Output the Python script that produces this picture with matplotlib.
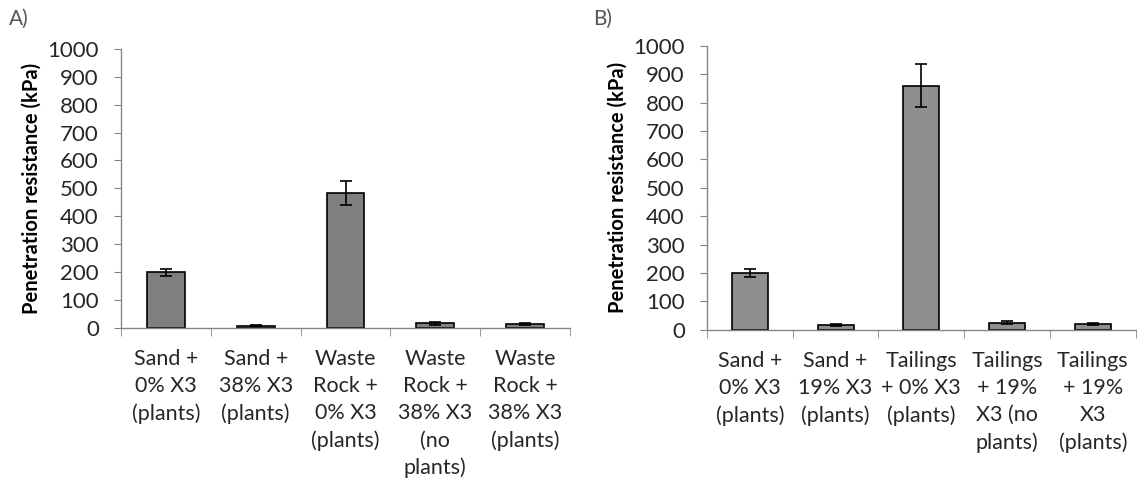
import matplotlib.pyplot as plt
import numpy as np

plt.rcParams['font.family'] = ['Lato', 'DejaVu Sans']

# panel A data
cats_a = ["Sand +\n0% X3\n(plants)", "Sand +\n38% X3\n(plants)", "Waste\nRock +\n0% X3\n(plants)",
          "Waste\nRock +\n38% X3\n(no\nplants)", "Waste\nRock +\n38% X3\n(plants)"]
vals_a = [199, 8, 485, 17, 15]
err_a = [13, 2, 43, 5, 3]

# panel B data
cats_b = ["Sand +\n0% X3\n(plants)", "Sand +\n19% X3\n(plants)", "Tailings\n+ 0% X3\n(plants)",
          "Tailings\n+ 19%\nX3 (no\nplants)", "Tailings\n+ 19%\nX3\n(plants)"]
vals_b = [200, 18, 860, 25, 20]
err_b = [13, 3, 75, 5, 3]

spine_col = "#868686"
txt_col = "#262626"

fig = plt.figure(figsize=(11.37, 4.88), dpi=100)

def panel(rect, cats, vals, errs, color, tag, tagx):
    ax = fig.add_axes(rect)
    x = np.arange(len(cats))
    ax.bar(x, vals, width=0.42, color=color, edgecolor="black", linewidth=1.2, zorder=2)
    ax.errorbar(x, vals, yerr=errs, fmt="none", ecolor="black", elinewidth=1.2,
                capsize=4, capthick=1.2, zorder=3)
    ax.set_xlim(-0.5, len(cats) - 0.5)
    ax.set_ylim(0, 1000)
    ax.set_yticks(np.arange(0, 1001, 100))
    ax.tick_params(axis="y", direction="out", length=5, color=spine_col, labelsize=16,
                   labelcolor=txt_col, pad=11)
    ax.set_xticks(x)
    ax.set_xticklabels(cats, fontsize=15.5, color=txt_col, linespacing=1.45, va="top")
    ax.tick_params(axis="x", which="major", length=0, pad=15)
    ax.set_xticks(np.arange(-0.5, len(cats)), minor=True)
    ax.tick_params(axis="x", which="minor", direction="out", length=6, color=spine_col)
    for s in ["top", "right"]:
        ax.spines[s].set_visible(False)
    for s in ["left", "bottom"]:
        ax.spines[s].set_color(spine_col)
        ax.spines[s].set_linewidth(1.0)
    ax.set_ylabel("Penetration resistance (kPa)", fontsize=14.5, fontweight="bold",
                  color="black", labelpad=4)
    fig.text(tagx, 0.962, tag, fontsize=15, color="#555555", va="center")
    return ax

panel([0.1064, 0.328, 0.395, 0.572], cats_a, vals_a, err_a, "#7f7f7f", "A)", 0.008)
panel([0.6218, 0.324, 0.377, 0.582], cats_b, vals_b, err_b, "#8f8f8f", "B)", 0.522)

fig.savefig("out.png", dpi=100)
